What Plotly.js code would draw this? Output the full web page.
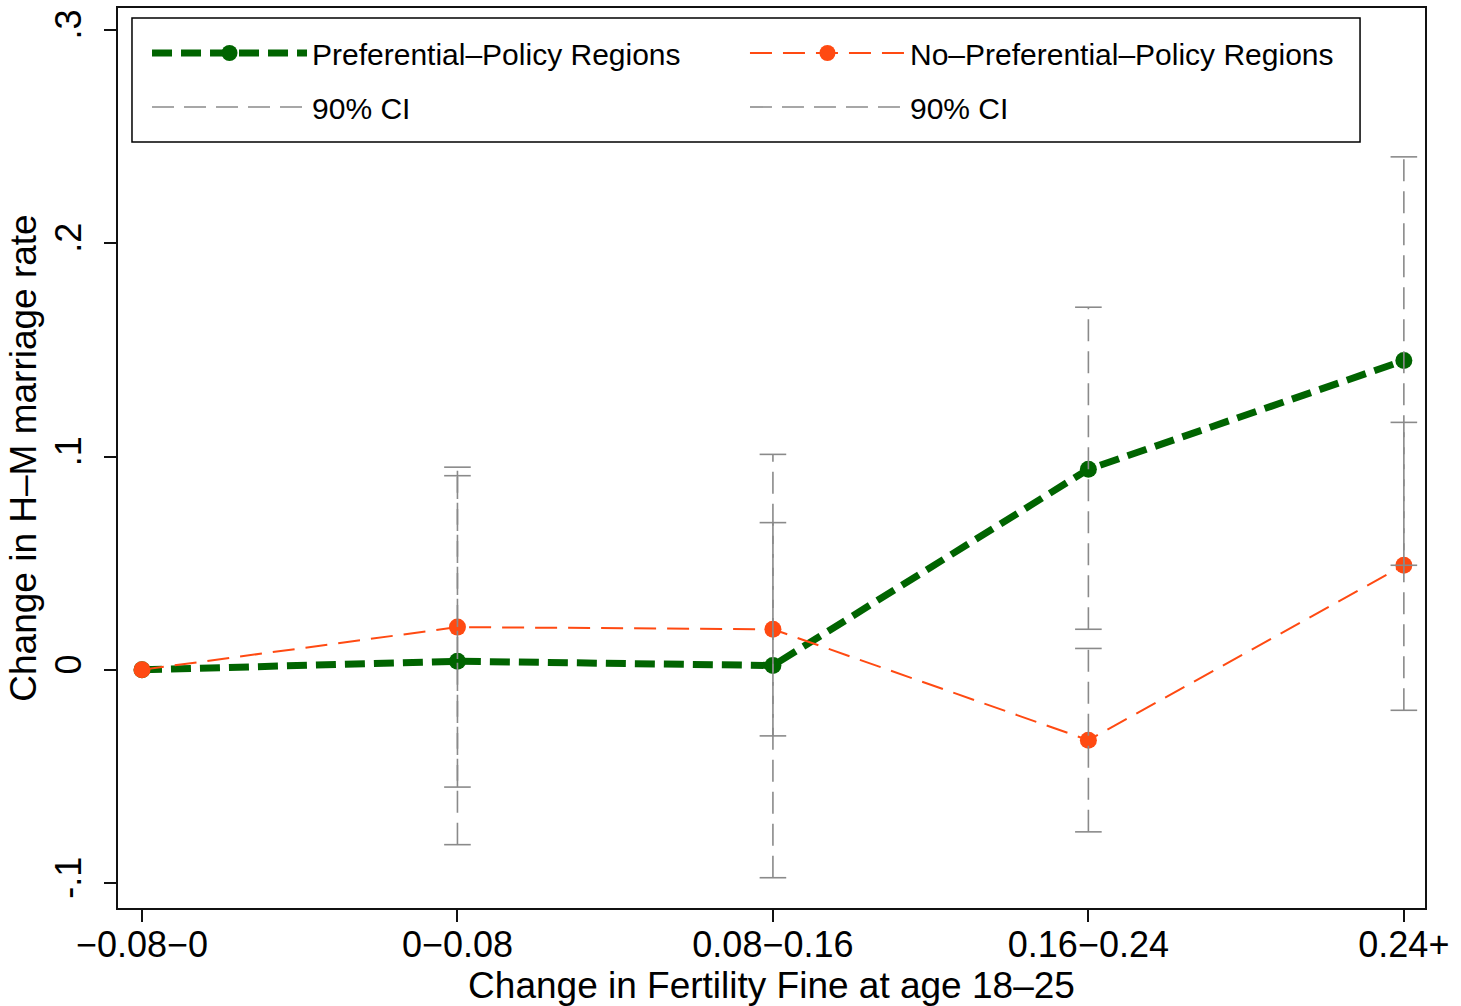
<!DOCTYPE html>
<html>
<head>
<meta charset="utf-8">
<script src="https://cdn.plot.ly/plotly-3.0.1.min.js"></script>
<style>html,body{margin:0;padding:0;background:#fff;}#chart{width:1461px;height:1006px;}</style>
</head>
<body>
<div id="chart"></div>
<script>
const categories = ["−0.08−0", "0−0.08", "0.08−0.16", "0.16−0.24", "0.24+"];
const prefValues = [0, 0.004, 0.002, 0.094, 0.145];
const noPrefValues = [0, 0.020, 0.019, -0.033, 0.049];
// 90% CI bounds (no interval for the reference category)
const prefLow = [null, -0.082, -0.0975, 0.019, 0.049];
const prefHigh = [null, 0.095, 0.101, 0.170, 0.2405];
const noPrefLow = [null, -0.055, -0.031, -0.076, -0.019];
const noPrefHigh = [null, 0.091, 0.069, 0.010, 0.116];
const yTickVals = [-0.1, 0, 0.1, 0.2, 0.3];
const yTickText = ["-.1", "0", ".1", ".2", ".3"];

function ciSegments(lo, hi) {
  const xs = [], ys = [];
  for (let i = 0; i < categories.length; i++) {
    if (lo[i] === null) continue;
    xs.push(categories[i], categories[i], null);
    ys.push(lo[i], hi[i], null);
  }
  return {x: xs, y: ys};
}
function ciCaps(lo, hi) {
  const xs = [], ys = [];
  for (let i = 0; i < categories.length; i++) {
    if (lo[i] === null) continue;
    xs.push(categories[i], categories[i]);
    ys.push(lo[i], hi[i]);
  }
  return {x: xs, y: ys};
}

const gray = "#8a8a8a";
const green = "#006400";
const orange = "#ff4a12";
const font = "Liberation Sans, Arial, sans-serif";

const segP = ciSegments(prefLow, prefHigh);
const segN = ciSegments(noPrefLow, noPrefHigh);
const capP = ciCaps(prefLow, prefHigh);
const capN = ciCaps(noPrefLow, noPrefHigh);

const traces = [
  {x: categories, y: prefValues, type: "scatter", mode: "lines+markers",
   name: "Preferential–Policy Regions", legend: "legend",
   line: {color: green, width: 7, dash: "20px,9px"},
   marker: {color: green, size: 17}},
  {x: categories, y: noPrefValues, type: "scatter", mode: "lines+markers",
   name: "No–Preferential–Policy Regions", legend: "legend2",
   line: {color: orange, width: 2, dash: "22px,11px"},
   marker: {color: orange, size: 17}},
  {x: segP.x, y: segP.y, type: "scatter", mode: "lines", name: "90% CI", legend: "legend3",
   line: {color: gray, width: 1.6, dash: "22px,10px"}, connectgaps: false},
  {x: segN.x, y: segN.y, type: "scatter", mode: "lines", name: "90% CI", legend: "legend4",
   line: {color: gray, width: 1.6, dash: "22px,10px"}, connectgaps: false},
  {x: capP.x.concat(capN.x), y: capP.y.concat(capN.y), type: "scatter", mode: "markers",
   showlegend: false, hoverinfo: "skip",
   marker: {symbol: "line-ew", size: 19, line: {color: gray, width: 1.6}}}
];

const legendCommon = {
  orientation: "h", xanchor: "left", yanchor: "middle",
  bgcolor: "rgba(0,0,0,0)", borderwidth: 0, itemwidth: 155,
  font: {family: font, size: 30, color: "#000"}
};
const col1 = 0.0222, col2 = 0.4797, row1 = 0.95, row2 = 0.89;

const layout = {
  width: 1461, height: 1006,
  margin: {l: 118, r: 36, t: 8, b: 98},
  paper_bgcolor: "#fff", plot_bgcolor: "#fff",
  font: {family: font, color: "#000", size: 36},
  showlegend: true,
  legend: Object.assign({}, legendCommon, {x: col1, y: row1}),
  legend2: Object.assign({}, legendCommon, {x: col2, y: row1}),
  legend3: Object.assign({}, legendCommon, {x: col1, y: row2}),
  legend4: Object.assign({}, legendCommon, {x: col2, y: row2}),
  shapes: [
    {type: "rect", xref: "paper", yref: "paper", x0: 0.0107, x1: 0.9503, y0: 0.8511, y1: 0.9889,
     line: {color: "#000", width: 1.5}, fillcolor: "#fff", layer: "above"}
  ],
  xaxis: {
    type: "category", range: [-0.076, 4.067],
    showline: true, mirror: true, linecolor: "#111", linewidth: 2,
    ticks: "outside", ticklen: 12, tickwidth: 2, tickcolor: "#111",
    showgrid: false, zeroline: false, ticklabelstandoff: -8,
    tickfont: {family: font, size: 36},
    title: {text: "Change in Fertility Fine at age 18–25", font: {family: font, size: 37}, standoff: 4}
  },
  yaxis: {
    range: [-0.1117, 0.3103],
    tickvals: yTickVals, ticktext: yTickText, tickangle: -90,
    showline: true, mirror: true, linecolor: "#111", linewidth: 2,
    ticks: "outside", ticklen: 12, tickwidth: 2, tickcolor: "#111",
    showgrid: false, zeroline: false, ticklabelstandoff: 9,
    tickfont: {family: font, size: 36},
    title: {text: "Change in H–M marriage rate", font: {family: font, size: 37}, standoff: 0}
  }
};

Plotly.newPlot("chart", traces, layout, {displayModeBar: false, staticPlot: true});
</script>
</body>
</html>
